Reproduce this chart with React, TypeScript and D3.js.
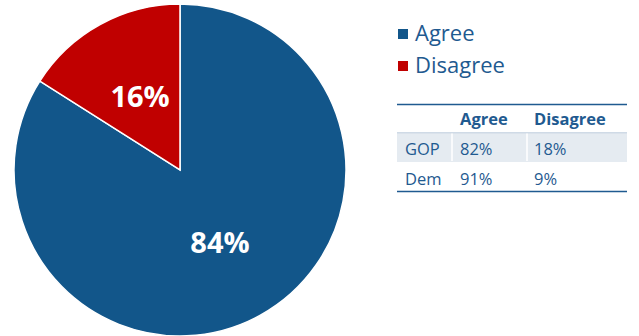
import React from "react";
import * as d3 from "d3";

const categories = ["Agree", "Disagree"];
const values = [84, 16];
const colors = ["#12568A", "#C00000"];
const tableHeader = ["", "Agree", "Disagree"];
const tableRows = [
  ["GOP", "82%", "18%"],
  ["Dem", "91%", "9%"],
];

const W = 639;
const H = 336;
const FONT = "'Open Sans', sans-serif";
const TEXT = "#1F5A90";

export default function App() {
  const cx = 180, cy = 170, R = 166;
  const pie = d3.pie<number>().sort(null).value((d) => d);
  const arcs = pie(values);
  const arc = d3.arc<d3.PieArcDatum<number>>().innerRadius(0).outerRadius(R);

  const colX = [405, 460, 534];
  const sepX = [452, 527];
  const tLeft = 397, tRight = 627;
  return (
    <svg width={W} height={H} style={{ position: "absolute", left: 0, top: 0 }}>
      <g transform={`translate(${cx},${cy})`}>
        {arcs.map((a, i) => (
          <path key={i} d={arc(a) || ""} fill={colors[i]} stroke="#fff" strokeWidth={1.5} />
        ))}
        {arcs.map((a, i) => {
          const [x, y] = arc.centroid(a);
          return (
            <text key={i} x={x} y={y + 10} textAnchor="middle" fill="#fff"
              fontFamily={FONT} fontWeight={700} fontSize={29}>
              {`${values[i]}%`}
            </text>
          );
        })}
      </g>
      {categories.map((c, i) => (
        <g key={c} transform={`translate(398,${29 + i * 32})`}>
          <rect x={0} y={0} width={10} height={10} fill={colors[i]} />
          <text x={17} y={12} fill={TEXT} fontFamily={FONT} fontSize={22}>{c}</text>
        </g>
      ))}
      <line x1={tLeft} x2={tRight} y1={104.5} y2={104.5} stroke="#1F5A90" strokeWidth={1.5} />
      {tableHeader.map((h, i) => (
        <text key={i} x={colX[i]} y={124.7} fill={TEXT} fontFamily={FONT}
          fontWeight={700} fontSize={16.5}>{h}</text>
      ))}
      <line x1={tLeft} x2={tRight} y1={133} y2={133} stroke="#9FB4CC" strokeWidth={1} />
      <rect x={tLeft} y={133.5} width={tRight - tLeft} height={28} fill="#E5EBF1" />
      {sepX.map((x) => (
        <line key={x} x1={x} x2={x} y1={133.5} y2={161.5} stroke="#fff" strokeWidth={1.5} />
      ))}
      <line x1={tLeft} x2={tRight} y1={161.5} y2={161.5} stroke="#E5EBF1" strokeWidth={1} />
      {tableRows.map((r, ri) =>
        r.map((v, ci) => (
          <text key={`${ri}-${ci}`} x={colX[ci]} y={155.3 + ri * 30} fill={TEXT}
            fontFamily={FONT} fontSize={16.5}>{v}</text>
        ))
      )}
      <line x1={tLeft} x2={tRight} y1={191.5} y2={191.5} stroke="#1F5A90" strokeWidth={1.5} />
    </svg>
  );
}
